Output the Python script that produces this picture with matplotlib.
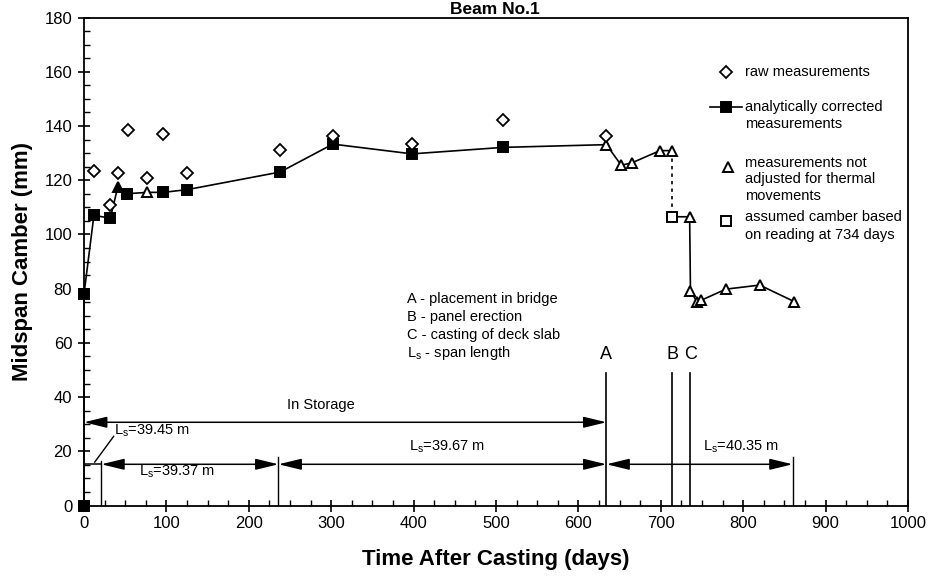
import matplotlib
matplotlib.use("Agg")
import matplotlib.pyplot as plt
from matplotlib.ticker import MultipleLocator

plt.rcParams['font.family'] = ['Liberation Sans', 'DejaVu Sans']
plt.rcParams['mathtext.default'] = 'regular'

# ---- data -------------------------------------------------------------
# camber history before the drop (one continuous line)
early_days = [0, 0, 12, 32, 41, 52, 77, 96, 125, 238, 302, 398, 509, 634, 652, 665, 699, 714]
early_vals = [0, 78, 107, 106, 117.5, 115, 115.5, 115.5, 116.5, 123, 133.3, 129.7, 132.1,
              133.1, 125.5, 126.4, 130.9, 130.9]
early_kind = ['sq', 'sq', 'sq', 'sq', 'ftri', 'sq', 'tri', 'sq', 'sq', 'sq', 'sq', 'sq', 'sq',
              'tri', 'tri', 'tri', 'tri', 'tri']

# camber history after panel erection / deck casting
late_days = [714, 735, 736, 744, 749, 779, 820, 862]
late_vals = [106.5, 106.5, 79, 75.2, 75.7, 79.8, 81.3, 75.2]
late_kind = ['osq', 'tri', 'tri', 'tri', 'tri', 'tri', 'tri', 'tri']

# raw readings
raw_days = [12, 32, 41, 53, 77, 96, 125, 238, 302, 398, 509, 634]
raw_vals = [123.3, 110.9, 122.7, 138.6, 120.7, 137.0, 122.5, 131.3, 136.2, 133.3, 142.3, 136.4]

# events and span lengths
event_names = ['A', 'B', 'C']
event_days = [634, 714, 736]
span_bounds = [21, 236, 634, 860]
span_labels = ['39.37', '39.67', '40.35']
first_span = '39.45'

# ---- figure -----------------------------------------------------------
fig = plt.figure(figsize=(9.29, 5.78), dpi=100)
ax = fig.add_axes([84 / 929, 1 - 505.5 / 578, 824 / 929, 488 / 578])
ax.set_xlim(0, 1000)
ax.set_ylim(0, 180)

lw = 1.2
mk = dict(ms=6.5, mew=1.4)
styles = {
    'sq': dict(marker='s', mfc='black', mec='black'),
    'osq': dict(marker='s', mfc='white', mec='black'),
    'tri': dict(marker='^', mfc='white', mec='black'),
    'ftri': dict(marker='^', mfc='black', mec='black'),
}

ax.plot(early_days, early_vals, color='black', lw=lw, zorder=3, clip_on=False)
ax.plot(late_days, late_vals, color='black', lw=lw, zorder=3)
# link between last reading before erection and the assumed value
ax.plot([early_days[-1], late_days[0]], [early_vals[-1], late_vals[0]],
        color='black', lw=lw, ls=(0, (2, 2.5)), zorder=3)

for d, v, k in list(zip(early_days, early_vals, early_kind)) + list(zip(late_days, late_vals, late_kind)):
    ax.plot([d], [v], ls='none', color='black', zorder=4, clip_on=False, **styles[k], **mk)

ax.plot(raw_days, raw_vals, ls='none', marker='D', ms=5.8, mfc='white', mec='black',
        mew=1.3, zorder=4)

# ---- axes styling -----------------------------------------------------
for s in ax.spines.values():
    s.set_linewidth(1.3)
ax.xaxis.set_major_locator(MultipleLocator(100))
ax.xaxis.set_minor_locator(MultipleLocator(25))
ax.yaxis.set_major_locator(MultipleLocator(20))
ax.yaxis.set_minor_locator(MultipleLocator(5))
ax.tick_params(which='major', direction='inout', length=9, width=1.2, labelsize=12,
               top=False, right=False)
ax.tick_params(which='minor', direction='in', length=4, width=1.0, top=False, right=False)
ax.tick_params(axis='x', which='major', pad=3)
ax.tick_params(axis='y', which='major', pad=4)

ax.set_xlabel('Time After Casting (days)', fontsize=16, fontweight='bold', labelpad=13)
ax.set_ylabel('Midspan Camber (mm)', fontsize=16, fontweight='bold', labelpad=8)

fig.text(0.533, 1 - 14.5 / 578, 'Beam No.1', ha='center', va='baseline',
         fontsize=12.5, fontweight='bold')

# ---- event lines --------------------------------------------------------
for name, d in zip(event_names, event_days):
    ax.plot([d, d], [0, 49], color='black', lw=1.2)
    ax.text(d, 54, name, ha='center', va='baseline', fontsize=13)

# span boundary ticks
ax.plot([span_bounds[0]] * 2, [0, 16.5], color='black', lw=1.0)
ax.plot([span_bounds[1]] * 2, [0, 17.8], color='black', lw=1.0)
ax.plot([span_bounds[3]] * 2, [0, 18], color='black', lw=1.0)

arrow = dict(arrowstyle='<|-|>,head_length=0.7,head_width=0.17', color='black',
             lw=1.1, shrinkA=0, shrinkB=0, mutation_scale=20)

# storage period
ax.annotate('', xy=(0, 30.7), xytext=(event_days[0], 30.7), arrowprops=arrow)
ax.text(288, 37.1, 'In Storage', ha='center', va='center', fontsize=10.5)

# span lengths
span_y = 15.2
ax.plot([0, span_bounds[0]], [span_y, span_y], color='black', lw=1.1)
for a, b in zip(span_bounds[:-1], span_bounds[1:]):
    ax.annotate('', xy=(a, span_y), xytext=(b, span_y), arrowprops=arrow)

ax.text(113.5, 12.5, 'L$_s$=%s m' % span_labels[0], ha='center', va='center', fontsize=10.5)
ax.text(441, 21.5, 'L$_s$=%s m' % span_labels[1], ha='center', va='center', fontsize=10.5)
ax.text(798, 21.5, 'L$_s$=%s m' % span_labels[2], ha='center', va='center', fontsize=10.5)

ax.plot([13, 36], [span_y + 0.8, 25.5], color='black', lw=1.0)
ax.text(37, 27.5, 'L$_s$=%s m' % first_span, ha='left', va='center', fontsize=10.5)

# event key
key_lines = ['A - placement in bridge', 'B - panel erection', 'C - casting of deck slab',
             'L$_s$ - span length']
for i, t in enumerate(key_lines):
    ax.text(392, 76.2 - 6.6 * i, t, ha='left', va='center', fontsize=10.5)

# ---- legend ------------------------------------------------------------
tx = 802
fs = 10.5
ax.plot([779], [159.9], ls='none', marker='D', ms=5.8, mfc='white', mec='black', mew=1.3)
ax.text(tx, 159.9, 'raw measurements', va='center', fontsize=fs)

ax.plot([760, 798], [146.9, 146.9], color='black', lw=lw)
ax.plot([778.6], [146.9], ls='none', **styles['sq'], **mk)
ax.text(tx, 146.9, 'analytically corrected', va='center', fontsize=fs)
ax.text(tx, 140.7, 'measurements', va='center', fontsize=fs)

ax.plot([781], [125.0], ls='none', **styles['tri'], **mk)
for i, t in enumerate(['measurements not', 'adjusted for thermal', 'movements']):
    ax.text(tx, 126.4 - 6.1 * i, t, va='center', fontsize=fs)

ax.plot([779], [105.1], ls='none', **styles['osq'], **mk)
for i, t in enumerate(['assumed camber based', 'on reading at 734 days']):
    ax.text(tx, 106.3 - 6.5 * i, t, va='center', fontsize=fs)

fig.savefig('out.png', dpi=100)
